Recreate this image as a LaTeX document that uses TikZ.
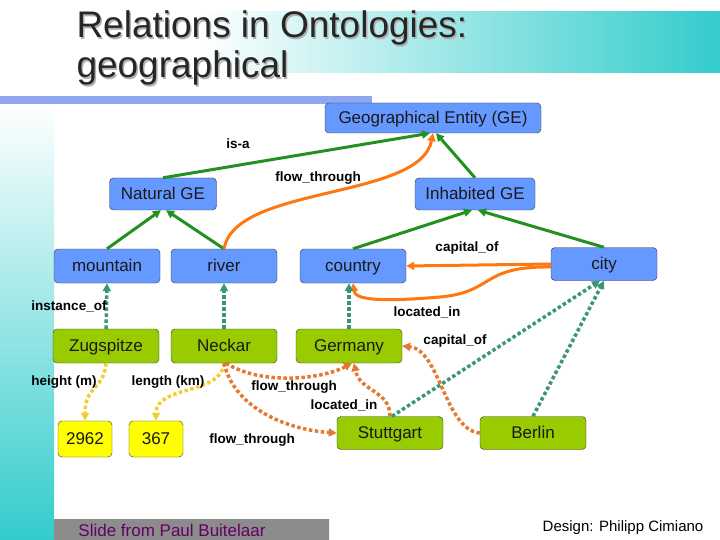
\documentclass[tikz,border=0pt]{standalone}
\usepackage{fontspec}
\setmainfont{Liberation Sans}
\usetikzlibrary{arrows.meta}
\definecolor{boxblue}{RGB}{102,153,255}
\definecolor{boxgreen}{RGB}{153,204,0}
\definecolor{boxyellow}{RGB}{255,255,0}
\definecolor{isagreen}{RGB}{34,145,34}
\definecolor{relorange}{RGB}{255,119,17}
\definecolor{dotorange}{RGB}{228,122,48}
\definecolor{instteal}{RGB}{58,150,122}
\definecolor{attyellow}{RGB}{242,206,52}
\definecolor{bandteal}{RGB}{51,204,204}
\definecolor{barblue}{RGB}{143,166,242}
\definecolor{slidepurple}{RGB}{102,0,102}
\tikzset{
    box/.style={draw=black!80, rounded corners=4pt, inner sep=0pt, text=black!90,
        text height=13pt, text depth=2pt, font=\fontsize{17}{20}\selectfont},
    bluebox/.style={box, fill=boxblue, minimum width=106pt, minimum height=34pt},
    greenbox/.style={box, fill=boxgreen, minimum width=106pt, minimum height=34pt},
    yellowbox/.style={box, fill=boxyellow, minimum width=54pt, minimum height=36pt},
    lbl/.style={font=\bfseries\fontsize{13.5}{16}\selectfont},
    title/.style={anchor=base west, font=\fontsize{37}{44}\selectfont},
    tip/.style={-{Triangle[length=8pt,width=8pt]}},
    isa/.style={tip, isagreen, line width=3pt},
    rel/.style={tip, relorange, line width=3pt},
    reldot/.style={tip, dotorange, line width=3.5pt, dash pattern=on 3.5pt off 2.5pt},
    inst/.style={tip, instteal, line width=3.5pt, dash pattern=on 3.5pt off 2.5pt},
    att/.style={tip, attyellow, line width=3.5pt, dash pattern=on 3.5pt off 2.5pt}
}

\begin{document}
\begin{tikzpicture}[x=1pt, y=-1pt]
    \useasboundingbox (0,0) rectangle (720,540);
    \shade[left color=white, right color=bandteal] (200,12) rectangle (720,73);
    \shade[top color=white, bottom color=bandteal] (0,104) rectangle (54,540);
    \fill[barblue] (0,96) rectangle (372,104);
    \shade[left color=black!45, middle color=black!12, right color=black!45] (54,519) rectangle (329,540);

    \node[title, text=black!30] (titleashadow) at (74.5,39.5) {Relations in Ontologies:};
    \node[title, text=black!85] (titlea) at (73,38) {Relations in Ontologies:};
    \node[title, text=black!30] (titlebshadow) at (74.5,79.5) {geographical};
    \node[title, text=black!85] (titleb) at (73,78) {geographical};

    \node[bluebox, minimum width=216pt, minimum height=30pt] (ge) at (433,118) {Geographical Entity (GE)};
    \node[bluebox, minimum width=107pt, minimum height=32pt] (natural) at (163,194) {Natural GE};
    \node[bluebox, minimum width=120pt, minimum height=32pt] (inhabited) at (475,194) {Inhabited GE};
    \node[bluebox] (mountain) at (107,266) {mountain};
    \node[bluebox] (river) at (224,266) {river};
    \node[bluebox] (country) at (353,266) {country};
    \node[bluebox, minimum height=33pt] (city) at (604,264) {city};
    \node[greenbox] (zugspitze) at (106,346) {Zugspitze};
    \node[greenbox] (neckar) at (224,346) {Neckar};
    \node[greenbox] (germany) at (349,346) {Germany};
    \node[yellowbox] (height) at (85,439) {2962};
    \node[yellowbox] (length) at (156,439) {367};
    \node[greenbox, minimum height=33pt] (stuttgart) at (390,433) {Stuttgart};
    \node[greenbox, minimum height=33pt] (berlin) at (533,433) {Berlin};

    \draw[isa] (natural.north) -- ([xshift=-3pt]ge.south);
    \draw[isa] (inhabited.north) -- ([xshift=3pt]ge.south);
    \draw[isa] (mountain.north) -- ([xshift=-2pt]natural.south);
    \draw[isa] (river.north) -- ([xshift=3pt]natural.south);
    \draw[isa] (country.north) -- ([xshift=-3pt]inhabited.south);
    \draw[isa] (city.north) -- ([xshift=3pt]inhabited.south);

    \draw[rel] (river.north) .. controls (235,185) and (420,200) .. (ge.south);
    \draw[rel] (city.west) -- (country.east);
    \draw[rel] ([yshift=-3pt]city.west) .. controls (480,266) and (495,292) .. (440,297)
        .. controls (380,302) and (355,300) .. (country.south);

    \draw[inst] (zugspitze.north) -- (mountain.south);
    \draw[inst] (neckar.north) -- (river.south);
    \draw[inst] (germany.north) -- (germany.north |- country.south);
    \draw[inst] ([xshift=2pt]stuttgart.north) -- ([xshift=-4pt]city.south);
    \draw[inst] (berlin.north) -- (city.south);

    \draw[att] (zugspitze.south) .. controls (104,390) and (85,385) .. (height.north);
    \draw[att] (neckar.south) .. controls (222,395) and (156,385) .. (length.north);

    \draw[reldot] ([xshift=2pt]neckar.south) .. controls (260,385) and (320,380) .. ([xshift=3pt]germany.south);
    \draw[reldot] (neckar.south) .. controls (235,410) and (290,430) .. (stuttgart.west);
    \draw[reldot] (stuttgart.north) .. controls (390,390) and (360,392) .. ([xshift=5pt]germany.south);
    \draw[reldot] (berlin.west) .. controls (445,430) and (440,350) .. (germany.east);

    \node[lbl] (isalbl) at (238,144) {is-a};
    \node[lbl] (flowa) at (318,178) {flow\_through};
    \node[lbl] (capitala) at (467,248) {capital\_of};
    \node[lbl] (instlbl) at (69,306) {instance\_of};
    \node[lbl] (locateda) at (427,312) {located\_in};
    \node[lbl] (capitalb) at (455,341) {capital\_of};
    \node[lbl] (heightlbl) at (64,382) {height (m)};
    \node[lbl] (lengthlbl) at (168,382) {length (km)};
    \node[lbl] (flowb) at (294,387) {flow\_through};
    \node[lbl] (locatedb) at (344,405) {located\_in};
    \node[lbl] (flowc) at (252,440) {flow\_through};

    \node[text=slidepurple, font=\fontsize{17}{20}\selectfont] (slide) at (172,530) {Slide from Paul Buitelaar};
    \node[font=\fontsize{15}{18}\selectfont] (design) at (623,528) {Design: Philipp Cimiano};
\end{tikzpicture}
\end{document}
